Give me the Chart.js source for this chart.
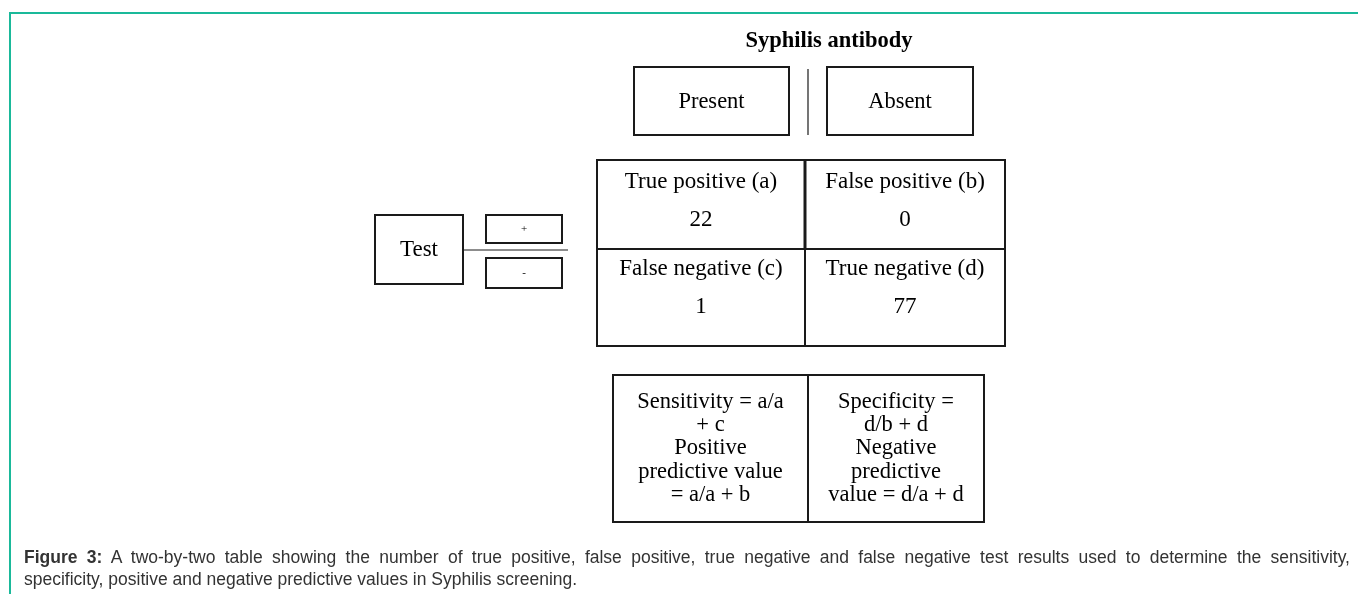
<!DOCTYPE html>
<html>
<head>
<meta charset="utf-8">
<title>Syphilis antibody two-by-two table</title>
<script src="https://cdn.jsdelivr.net/npm/chart.js@4.4.1/dist/chart.umd.min.js"></script>
<style>
    html, body { margin: 0; padding: 0; background: #fff; }
    #wrap { position: relative; width: 1358px; height: 594px; overflow: hidden; }
    #frame {
        position: absolute; left: 9px; top: 12px; right: 0; bottom: 0;
        border-top: 2px solid #1ab99a; border-left: 2px solid #1ab99a;
    }
    #diagram { position: absolute; left: 0; top: 0; }
    #caption {
        position: absolute; left: 24px; top: 546px; width: 1326px;
        font-family: "Liberation Sans", Arial, sans-serif; font-size: 17.5px;
        line-height: 22px; color: #333;
    }
    #caption .line1 { text-align: justify; text-align-last: justify; }
</style>
</head>
<body>
<div id="wrap">
    <div id="frame"></div>
    <canvas id="diagram" width="1358" height="594"></canvas>
    <div id="caption">
        <div class="line1"><b>Figure 3:</b> A two-by-two table showing the number of true positive, false positive, true negative and false negative test results used to determine the sensitivity,</div>
        <div>specificity, positive and negative predictive values in Syphilis screening.</div>
    </div>
</div>
<script>
// ---- Data ----
const headerTitle = 'Syphilis antibody';
const columnLabels = ['Present', 'Absent'];
const testLabel = 'Test';
const rowLabels = ['+', '-'];
const cellLabels = ['True positive (a)', 'False positive (b)', 'False negative (c)', 'True negative (d)'];
const cellCounts = [22, 0, 1, 77];
const sensitivityLines = ['Sensitivity = a/a', '+ c', 'Positive', 'predictive value', '= a/a + b'];
const specificityLines = ['Specificity =', 'd/b + d', 'Negative', 'predictive', 'value = d/a + d'];

const SERIF = '"Liberation Serif", "Times New Roman", serif';
const INK = '#1a1a1a';

// Layout in page units; converted to pixels through the chart scales
const layout = {
    title: { x: 829, y: 41 },
    colBoxes: [[634, 67, 789, 135], [827, 67, 973, 135]],
    colDivider: { x: 808, y0: 69, y1: 135 },
    table: { x0: 597, x1: 1005, y0: 160, y1: 346, xm: 805, ym: 249 },
    cellTextDy: [[22, 60], [20, 58]],
    testBox: [375, 215, 463, 284],
    rowBoxes: [[486, 215, 562, 243], [486, 258, 562, 288]],
    testLine: { x0: 463, x1: 568, y: 250 },
    formula: { x0: 613, x1: 984, y0: 375, y1: 522, xm: 808 },
    formulaStep: 23.3,
};

const diagramPlugin = {
    id: 'diagram',
    afterDraw(chart) {
        const ctx = chart.ctx;
        const X = v => chart.scales.x.getPixelForValue(v);
        const Y = v => chart.scales.y.getPixelForValue(v);

        const rect = (b, w) => {
            ctx.lineWidth = w;
            ctx.strokeRect(X(b[0]), Y(b[1]), X(b[2]) - X(b[0]), Y(b[3]) - Y(b[1]));
        };
        const line = (x0, y0, x1, y1, w) => {
            ctx.lineWidth = w;
            ctx.beginPath();
            ctx.moveTo(X(x0), Y(y0));
            ctx.lineTo(X(x1), Y(y1));
            ctx.stroke();
        };
        const text = (s, x, y, font) => {
            ctx.font = font;
            ctx.fillText(String(s), X(x), Y(y));
        };

        ctx.save();
        ctx.strokeStyle = INK;
        ctx.fillStyle = '#000';
        ctx.textAlign = 'center';
        ctx.textBaseline = 'middle';

        // header
        text(headerTitle, layout.title.x, layout.title.y, 'bold 22.5px ' + SERIF);
        layout.colBoxes.forEach((b, i) => {
            rect(b, 2);
            text(columnLabels[i], (b[0] + b[2]) / 2, (b[1] + b[3]) / 2 + 1, '22.5px ' + SERIF);
        });
        const d = layout.colDivider;
        line(d.x, d.y0, d.x, d.y1, 1.2);

        // test side
        rect(layout.testBox, 2);
        text(testLabel, (layout.testBox[0] + layout.testBox[2]) / 2, (layout.testBox[1] + layout.testBox[3]) / 2, '23px ' + SERIF);
        layout.rowBoxes.forEach((b, i) => {
            rect(b, 2);
            text(rowLabels[i], (b[0] + b[2]) / 2, (b[1] + b[3]) / 2, '11px ' + SERIF);
        });
        const tl = layout.testLine;
        line(tl.x0, tl.y, tl.x1, tl.y, 1);

        // 2x2 table
        const t = layout.table;
        rect([t.x0, t.y0, t.x1, t.y1], 2);
        line(t.xm, t.y0, t.xm, t.ym, 3);
        line(t.xm, t.ym, t.xm, t.y1, 2);
        line(t.x0, t.ym, t.x1, t.ym, 2);
        const colCx = [(t.x0 + t.xm) / 2, (t.xm + t.x1) / 2];
        const rowTop = [t.y0, t.ym];
        cellLabels.forEach((lbl, i) => {
            const r = Math.floor(i / 2);
            const cx = colCx[i % 2];
            text(lbl, cx, rowTop[r] + layout.cellTextDy[r][0], '23px ' + SERIF);
            text(cellCounts[i], cx, rowTop[r] + layout.cellTextDy[r][1], '23px ' + SERIF);
        });

        // formula table
        const f = layout.formula;
        rect([f.x0, f.y0, f.x1, f.y1], 2);
        line(f.xm, f.y0, f.xm, f.y1, 2);
        const fCx = [(f.x0 + f.xm) / 2, (f.xm + f.x1) / 2];
        const fMid = (f.y0 + f.y1) / 2;
        [sensitivityLines, specificityLines].forEach((lines, c) => {
            const y0 = fMid - (lines.length - 1) / 2 * layout.formulaStep;
            lines.forEach((s, k) => {
                text(s, fCx[c], y0 + k * layout.formulaStep, '22.5px ' + SERIF);
            });
        });

        ctx.restore();
    }
};

new Chart(document.getElementById('diagram'), {
    type: 'scatter',
    data: { datasets: [] },
    options: {
        responsive: false,
        animation: false,
        devicePixelRatio: 1,
        events: [],
        layout: { padding: 0 },
        plugins: { legend: { display: false }, tooltip: { enabled: false } },
        scales: {
            x: { type: 'linear', min: 0, max: 1358, display: false },
            y: { type: 'linear', min: 0, max: 594, reverse: true, display: false }
        }
    },
    plugins: [diagramPlugin]
});
</script>
</body>
</html>
